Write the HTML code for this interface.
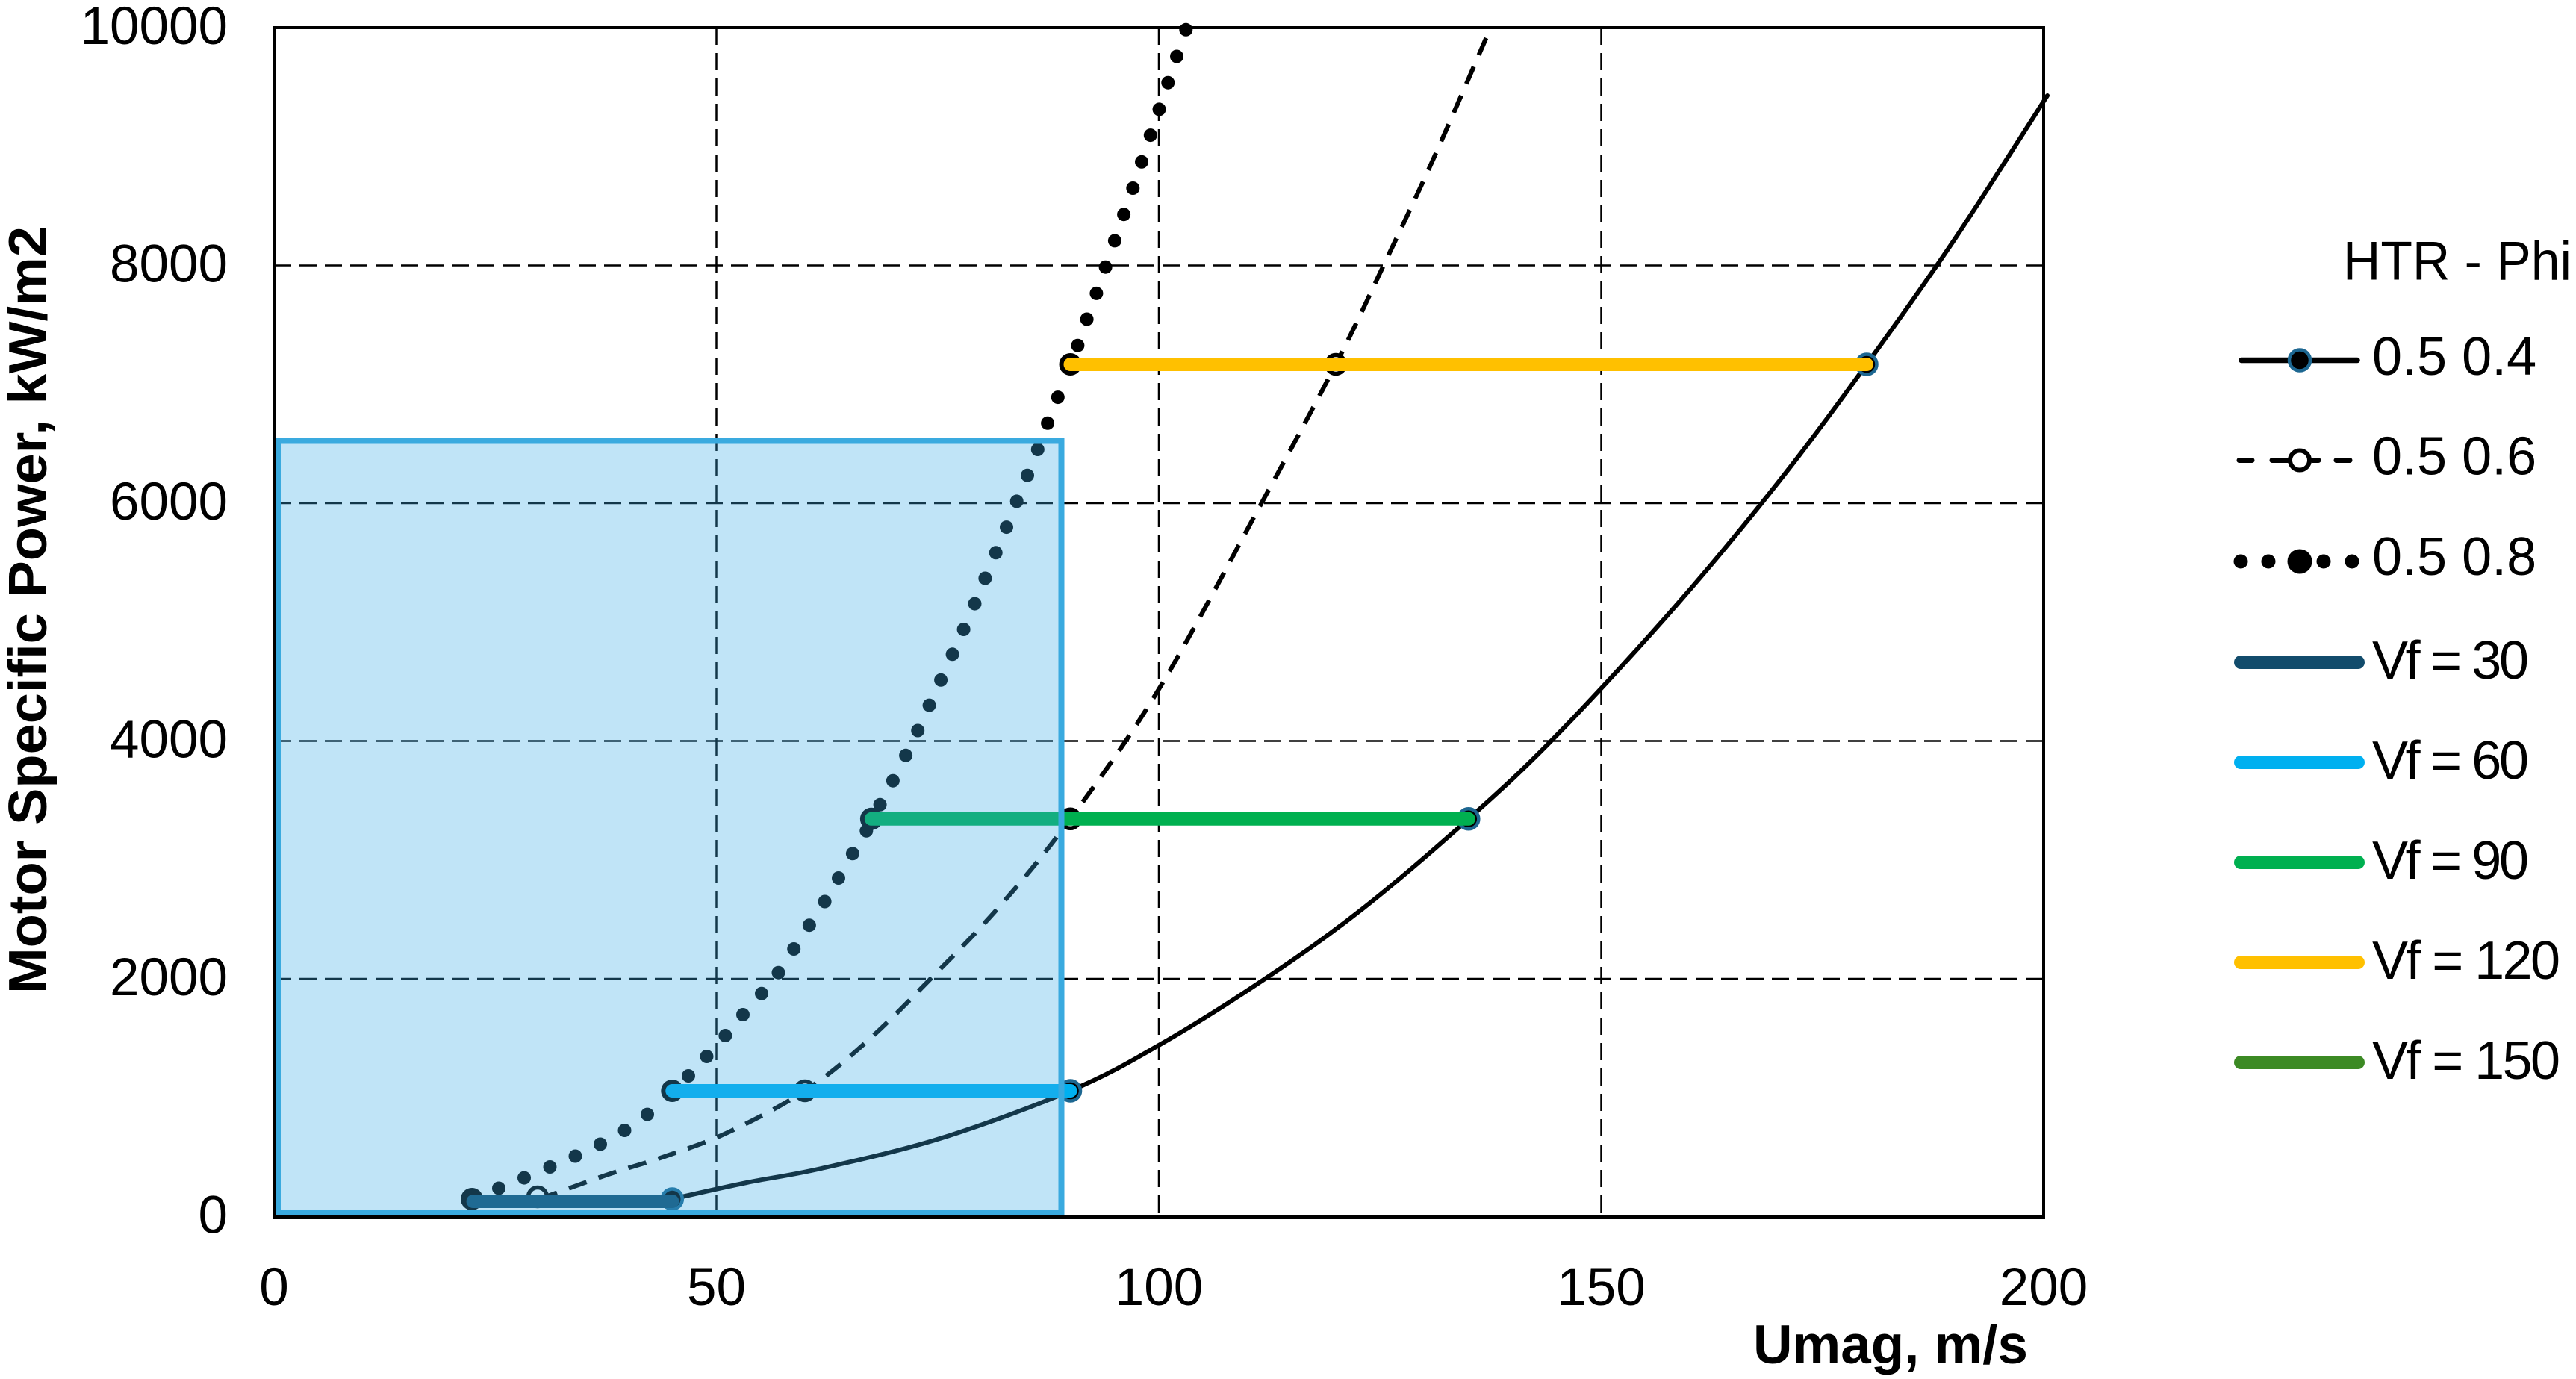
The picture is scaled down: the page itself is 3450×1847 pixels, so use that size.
<!DOCTYPE html>
<html>
<head>
<meta charset="utf-8">
<style>
  html, body { margin: 0; padding: 0; background: #ffffff; }
  svg { display: block; }
  text { font-family: "Liberation Sans", Arial, sans-serif; fill: #000; }
</style>
</head>
<body>
<svg width="3450" height="1847" viewBox="0 0 3450 1847" xmlns="http://www.w3.org/2000/svg">
  <rect x="0" y="0" width="3450" height="1847" fill="#ffffff"/>

  <!-- grid -->
  <g stroke="#000" stroke-width="2.5" stroke-dasharray="23 11" fill="none">
    <line x1="959.5" y1="37" x2="959.5" y2="1630"/>
    <line x1="1552" y1="37" x2="1552" y2="1630"/>
    <line x1="2144.5" y1="37" x2="2144.5" y2="1630"/>
    <line x1="367" y1="355.5" x2="2737" y2="355.5"/>
    <line x1="367" y1="674" x2="2737" y2="674"/>
    <line x1="367" y1="992.5" x2="2737" y2="992.5"/>
    <line x1="367" y1="1311" x2="2737" y2="1311"/>
  </g>

  <!-- solid series 0.5 0.4 -->
  <path fill="none" stroke="#000" stroke-width="6" stroke-linecap="round"
    d="M900.3,1606 C916.9,1602.2 966.7,1590.8 1000,1584 C1033.3,1577.2 1056.5,1574.9 1100,1565 C1143.5,1555.1 1205.1,1541.7 1260.7,1524.4 C1316.3,1507.1 1384.9,1481.7 1433.5,1461 C1482.1,1440.3 1508.5,1425 1552,1400 C1595.5,1375 1648.8,1341.4 1694.2,1311 C1739.6,1280.6 1779.2,1253.1 1824.6,1217.4 C1870,1181.7 1923.3,1135.6 1966.8,1096.8 C2010.3,1058 2038.9,1032.1 2085.3,984.4 C2131.7,936.7 2195.8,866.9 2245.2,810.5 C2294.6,754.1 2339,699.9 2381.5,646.1 C2424,592.4 2460.5,542.5 2500,488 C2539.5,433.5 2578.2,379.4 2618.5,319.4 C2658.8,259.4 2721.4,159.9 2742,128"/>

  <!-- dashed series 0.5 0.6 -->
  <path fill="none" stroke="#000" stroke-width="6" stroke-dasharray="25 17"
    d="M722.5,1606 C737.4,1600.7 783.3,1583.7 811.7,1574 C840.1,1564.3 865.8,1557.6 893,1548 C920.2,1538.5 944.2,1531.2 975,1516.7 C1005.8,1502.2 1047,1481.3 1078,1461 C1109,1440.7 1132.95,1419.9 1161,1394.9 C1189.05,1369.9 1216.7,1341.2 1246.3,1311 C1275.9,1280.9 1307.5,1249.7 1338.7,1214 C1369.9,1178.3 1397.95,1145.3 1433.5,1096.8 C1469.05,1048.3 1509.3,993.6 1552,923.1 C1594.7,852.6 1650,746.5 1689.5,674 C1729,601.5 1761.75,541.1 1789,488 C1816.25,434.9 1831.3,401.25 1853,355.5 C1874.7,309.75 1895.5,266.6 1919.4,213.5 C1943.3,160.4 1983.6,66.4 1996.4,37"/>

  <!-- dotted series 0.5 0.8 -->
  <g fill="#000">
    <circle cx="668" cy="1591.5" r="9"/>
    <circle cx="702" cy="1577.6" r="9"/>
    <circle cx="736.5" cy="1563" r="9"/>
    <circle cx="770.5" cy="1548.5" r="9"/>
    <circle cx="804" cy="1532.5" r="9"/>
    <circle cx="836.5" cy="1514" r="9"/>
    <circle cx="867" cy="1492.6" r="9"/>
    <circle cx="922" cy="1441" r="9"/>
    <circle cx="946.5" cy="1415" r="9"/>
    <circle cx="971.4" cy="1387" r="9"/>
    <circle cx="995" cy="1359" r="9"/>
    <circle cx="1020" cy="1330.7" r="9"/>
    <circle cx="1042.5" cy="1302.7" r="9"/>
    <circle cx="1063.2" cy="1271" r="9"/>
    <circle cx="1083.9" cy="1239.2" r="9"/>
    <circle cx="1104.6" cy="1207.5" r="9"/>
    <circle cx="1123" cy="1176" r="9"/>
    <circle cx="1141.9" cy="1143.3" r="9"/>
    <circle cx="1160.3" cy="1112.8" r="9"/>
    <circle cx="1178.6" cy="1077.8" r="9"/>
    <circle cx="1195.9" cy="1045.7" r="9"/>
    <circle cx="1213.1" cy="1011.8" r="9"/>
    <circle cx="1229.2" cy="978.5" r="9"/>
    <circle cx="1244.6" cy="944.6" r="9"/>
    <circle cx="1260.1" cy="910.8" r="9"/>
    <circle cx="1275.6" cy="876.3" r="9"/>
    <circle cx="1290.6" cy="843" r="9"/>
    <circle cx="1305.5" cy="808.6" r="9"/>
    <circle cx="1319.4" cy="774.5" r="9"/>
    <circle cx="1333.7" cy="740.3" r="9"/>
    <circle cx="1348" cy="706.1" r="9"/>
    <circle cx="1361.7" cy="671.4" r="9"/>
    <circle cx="1376" cy="636.7" r="9"/>
    <circle cx="1389.8" cy="602" r="9"/>
    <circle cx="1403.1" cy="566.8" r="9"/>
    <circle cx="1416.8" cy="532.1" r="9"/>
    <circle cx="1443.4" cy="462.7" r="9"/>
    <circle cx="1455.6" cy="427.5" r="9"/>
    <circle cx="1468.4" cy="392.9" r="9"/>
    <circle cx="1480.6" cy="357.7" r="9"/>
    <circle cx="1492.9" cy="322.4" r="9"/>
    <circle cx="1505.1" cy="287.2" r="9"/>
    <circle cx="1517.3" cy="252" r="9"/>
    <circle cx="1529" cy="216.8" r="9"/>
    <circle cx="1540.8" cy="181.1" r="9"/>
    <circle cx="1552.5" cy="146.4" r="9"/>
    <circle cx="1564.3" cy="110.7" r="9"/>
    <circle cx="1576" cy="75.5" r="9"/>
    <circle cx="1588.3" cy="39.8" r="9"/>
  </g>

  <!-- markers: dotted series -->
  <g fill="#000">
    <circle cx="632" cy="1606" r="15"/>
    <circle cx="900.3" cy="1461" r="15"/>
    <circle cx="1166.9" cy="1096.8" r="15"/>
    <circle cx="1433.5" cy="488" r="15"/>
  </g>
  <!-- markers: dashed series -->
  <g fill="#fff" stroke="#000" stroke-width="5.5">
    <circle cx="720" cy="1603" r="12.5"/>
    <circle cx="1078" cy="1461" r="12.5"/>
    <circle cx="1433.5" cy="1096.8" r="12.5"/>
    <circle cx="1789" cy="488" r="12.5"/>
  </g>
  <!-- markers: solid series -->
  <g fill="#000" stroke="#1d6791" stroke-width="4.5">
    <circle cx="900.3" cy="1606" r="13.5"/>
    <circle cx="1433.5" cy="1461" r="13.5"/>
    <circle cx="1966.8" cy="1096.8" r="13.5"/>
    <circle cx="2500" cy="488" r="13.5"/>
  </g>

  <!-- Vf lines -->
  <g stroke-width="18" stroke-linecap="round" fill="none">
    <line x1="633.6" y1="1609" x2="900.3" y2="1609" stroke="#124c6c"/>
    <line x1="900.3" y1="1461" x2="1433.5" y2="1461" stroke="#00b0f0"/>
    <line x1="1166.9" y1="1096.8" x2="1966.8" y2="1096.8" stroke="#00b050"/>
    <line x1="1433.5" y1="488" x2="2500" y2="488" stroke="#ffc000"/>
  </g>

  <!-- highlighted region -->
  <rect x="372" y="590.5" width="1049.5" height="1033.5" fill="rgba(60,170,230,0.32)" stroke="#3aaadf" stroke-width="8"/>

  <!-- axes frame -->
  <rect x="367" y="37" width="2370" height="1593" fill="none" stroke="#000" stroke-width="4"/>
  <line x1="365" y1="1630.5" x2="2739" y2="1630.5" stroke="#000" stroke-width="5"/>

  <!-- y tick labels -->
  <g font-size="71" text-anchor="end">
    <text x="305" y="59">10000</text>
    <text x="305" y="377.5">8000</text>
    <text x="305" y="696">6000</text>
    <text x="305" y="1014.5">4000</text>
    <text x="305" y="1333">2000</text>
    <text x="305" y="1651.5">0</text>
  </g>
  <!-- x tick labels -->
  <g font-size="71" text-anchor="middle">
    <text x="367" y="1748">0</text>
    <text x="959.5" y="1748">50</text>
    <text x="1552" y="1748">100</text>
    <text x="2144.5" y="1748">150</text>
    <text x="2737" y="1748">200</text>
  </g>

  <!-- axis titles -->
  <text transform="translate(62,817) rotate(-90)" text-anchor="middle" font-size="72" font-weight="bold" textLength="1028" lengthAdjust="spacingAndGlyphs">Motor Specific Power, kW/m2</text>
  <text x="2348" y="1826" font-size="73" font-weight="bold" textLength="368" lengthAdjust="spacingAndGlyphs">Umag, m/s</text>

  <!-- legend -->
  <text x="3138" y="374.5" font-size="73" textLength="306" lengthAdjust="spacingAndGlyphs">HTR - Phi</text>

  <!-- row 1: solid -->
  <line x1="3002" y1="482.5" x2="3157" y2="482.5" stroke="#000" stroke-width="7.5" stroke-linecap="round"/>
  <circle cx="3080" cy="482.5" r="14" fill="#000" stroke="#1d6791" stroke-width="4.5"/>
  <text x="3177" y="502" font-size="72">0.5 0.4</text>

  <!-- row 2: dashed -->
  <g stroke="#000" stroke-width="7" stroke-linecap="round">
    <line x1="2999" y1="616.5" x2="3016" y2="616.5"/>
    <line x1="3043" y1="616.5" x2="3064" y2="616.5"/>
    <line x1="3097" y1="616.5" x2="3105" y2="616.5"/>
    <line x1="3129" y1="616.5" x2="3147" y2="616.5"/>
  </g>
  <circle cx="3080" cy="616.5" r="13" fill="#fff" stroke="#000" stroke-width="6"/>
  <text x="3177" y="635.5" font-size="72">0.5 0.6</text>

  <!-- row 3: dotted -->
  <g fill="#000">
    <circle cx="3001" cy="752" r="9.5"/>
    <circle cx="3038" cy="752" r="9.5"/>
    <circle cx="3080" cy="752" r="16.5"/>
    <circle cx="3112" cy="752" r="9.5"/>
    <circle cx="3150" cy="752" r="9.5"/>
  </g>
  <text x="3177" y="770" font-size="72">0.5 0.8</text>

  <!-- Vf rows -->
  <g stroke-width="18" stroke-linecap="round">
    <line x1="3001" y1="887" x2="3158" y2="887" stroke="#124c6c"/>
    <line x1="3001" y1="1021" x2="3158" y2="1021" stroke="#00b0f0"/>
    <line x1="3001" y1="1155" x2="3158" y2="1155" stroke="#00b050"/>
    <line x1="3001" y1="1289" x2="3158" y2="1289" stroke="#ffc000"/>
    <line x1="3001" y1="1423" x2="3158" y2="1423" stroke="#3c8a24"/>
  </g>
  <g font-size="72">
    <text x="3177" y="909" textLength="210" lengthAdjust="spacing">Vf = 30</text>
    <text x="3177" y="1043" textLength="210" lengthAdjust="spacing">Vf = 60</text>
    <text x="3177" y="1177" textLength="210" lengthAdjust="spacing">Vf = 90</text>
    <text x="3177" y="1311" textLength="252" lengthAdjust="spacing">Vf = 120</text>
    <text x="3177" y="1445" textLength="252" lengthAdjust="spacing">Vf = 150</text>
  </g>
</svg>
</body>
</html>
